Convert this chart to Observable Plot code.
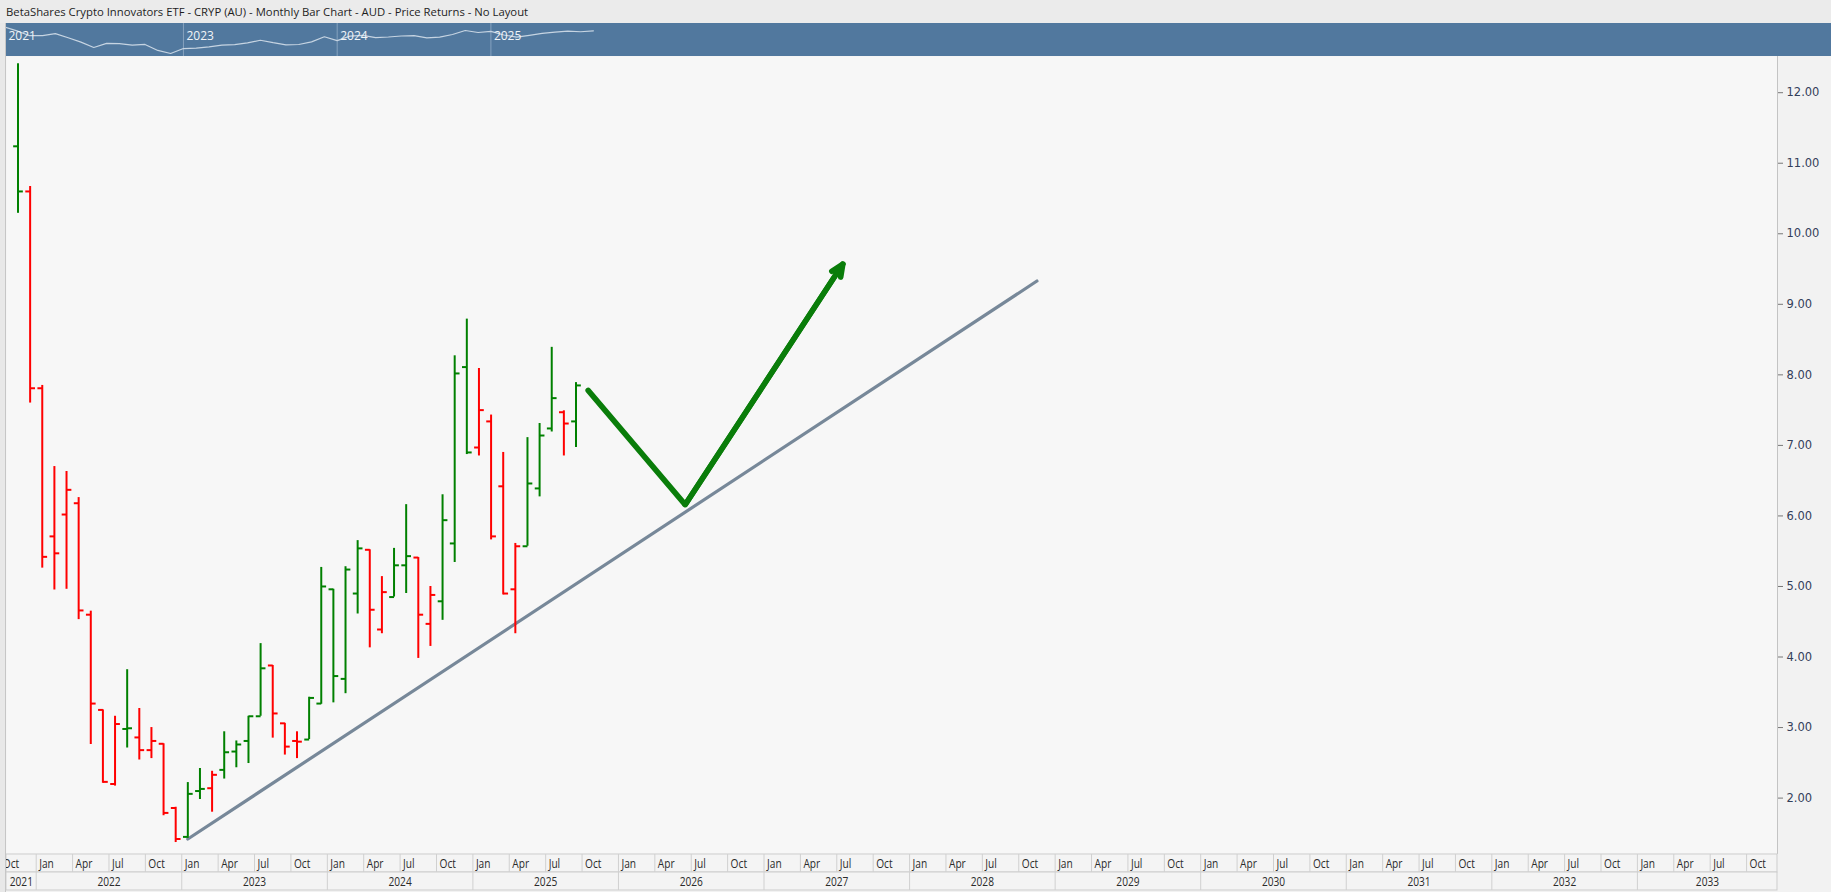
<!DOCTYPE html>
<html><head><meta charset="utf-8">
<script src="https://cdn.jsdelivr.net/npm/d3@7"></script>
<script src="https://cdn.jsdelivr.net/npm/@observablehq/plot@0.6"></script>
<style>
html,body{margin:0;padding:0;}
body{width:1831px;height:892px;overflow:hidden;background:#f2f2f2;position:relative;font-family:"Open Sans",sans-serif;}
#title{position:absolute;left:0;top:0;width:1831px;height:23px;background:#ebebeb;font-size:11.3px;line-height:23px;color:#1e1e1e;padding-left:6px;box-sizing:border-box;white-space:nowrap;}
#strip{position:absolute;left:0;top:23px;width:5px;height:869px;background:#e8e8e8;border-right:1px solid #c6c6c6;}
#nav{position:absolute;left:5px;top:23px;}
#main{position:absolute;left:0;top:56px;}
#axis{position:absolute;left:0;top:853px;}
svg{display:block;}
</style></head><body>
<div id="title">BetaShares Crypto Innovators ETF - CRYP (AU) - Monthly Bar Chart - AUD - Price Returns - No Layout</div>
<div id="nav"></div><div id="main"></div><div id="axis"></div><div id="strip"></div>
<script>
// ---------------- data ----------------
const months = ["2021-11","2021-12","2022-01","2022-02","2022-03","2022-04","2022-05","2022-06","2022-07","2022-08","2022-09","2022-10","2022-11","2022-12",
  "2023-01","2023-02","2023-03","2023-04","2023-05","2023-06","2023-07","2023-08","2023-09","2023-10","2023-11","2023-12",
  "2024-01","2024-02","2024-03","2024-04","2024-05","2024-06","2024-07","2024-08","2024-09","2024-10","2024-11","2024-12",
  "2025-01","2025-02","2025-03","2025-04","2025-05","2025-06","2025-07","2025-08","2025-09"];
const open  = [11.24,10.60,7.81,5.71,6.02,6.18,4.60,3.25,2.20,2.98,2.86,2.68,2.77,1.86,1.45,2.10,2.14,2.40,2.66,2.81,3.16,3.88,3.06,2.81,2.83,3.34,4.96,3.69,4.90,5.52,4.39,4.85,5.30,5.41,4.47,4.79,5.61,8.11,6.97,7.34,6.42,4.96,5.57,6.39,7.24,7.47,7.34];
const high  = [12.41,10.67,7.85,6.70,6.63,6.26,4.65,3.25,3.16,3.82,3.27,3.00,2.77,1.87,2.22,2.42,2.38,2.94,2.81,3.16,4.19,3.88,3.06,2.94,3.43,5.27,4.96,5.28,5.65,5.52,5.14,5.54,6.16,5.41,5.00,6.30,8.27,8.79,8.09,7.43,6.90,5.61,7.11,7.31,8.39,7.49,7.89];
const low   = [10.29,7.60,5.26,4.95,4.96,4.53,2.76,2.21,2.17,2.71,2.54,2.56,1.75,1.37,1.43,1.98,1.80,2.27,2.43,2.49,3.16,2.85,2.61,2.56,2.83,3.33,3.35,3.48,4.61,4.13,4.33,4.85,4.90,3.98,4.15,4.52,5.34,6.87,6.85,5.66,4.88,4.33,5.57,6.27,7.19,6.85,6.97];
const close = [10.60,7.81,5.42,5.47,6.37,4.66,3.34,2.23,3.05,2.99,2.68,2.81,1.79,1.42,2.06,2.13,2.33,2.65,2.76,3.16,3.84,3.20,2.73,2.80,3.42,5.00,3.73,5.24,5.54,4.67,4.92,5.30,5.43,4.60,4.88,5.94,8.02,6.90,7.50,5.71,4.90,5.57,6.46,7.14,7.67,7.31,7.85];
// bar colour class as shown in the chart (U = green, D = red)
const barClass = "UDDDDDDDDUDDDDUUDUUUUDDDUUUUUDDUUDDUUUDDDDUUUDU".split("");

const trendMonths = ["2023-01","2028-11"];
const trendValues = [1.42, 9.33];
const arrowMonths = ["2025-10","2026-06","2027-07"];
const arrowValues = [7.78, 6.16, 9.57];

const yTicks = [2,3,4,5,6,7,8,9,10,11,12];
const quarterLabels = ["Jan","Apr","Jul","Oct"];
const years = ["2021","2022","2023","2024","2025","2026","2027","2028","2029","2030","2031","2032","2033"];
const navYears = ["2021","2023","2024","2025"];

// ---------------- helpers ----------------
const monthIdx = s => { const [y, mo] = s.split("-").map(Number); return (y - 2021) * 12 + (mo - 11); };
const bars = months.map((d, k) => ({m: monthIdx(d), o: open[k], h: high[k], l: low[k], c: close[k], cls: barClass[k]}));
const barColor = d => d.cls === "U" ? "#008000" : "#ff0000";
const trend = trendMonths.map((d, k) => ({m: monthIdx(d), v: trendValues[k]}));
const arrowPts = arrowMonths.map((d, k) => ({m: monthIdx(d), v: arrowValues[k]}));
const arrowSeg = [{m1: arrowPts[1].m, v1: arrowPts[1].v, m2: arrowPts[2].m, v2: arrowPts[2].v}];

const X_DOMAIN = [-0.948, 145.05];
const Y_DOMAIN = [1.2146, 12.513];
const TICK = 0.4;

// ---------------- main chart ----------------
const main = Plot.plot({
  width: 1831, height: 797,
  marginLeft: 6, marginRight: 54, marginTop: 0, marginBottom: 0,
  style: {background: "transparent", fontFamily: "DejaVu Sans", fontSize: "11.5px", overflow: "visible"},
  x: {domain: X_DOMAIN, axis: null},
  y: {domain: Y_DOMAIN, axis: null},
  color: {type: "identity"},
  marks: [
    Plot.frame({fill: "#f7f7f7"}),
    Plot.frame({anchor: "right", stroke: "#c4c4c4"}),
    Plot.axisY(yTicks, {anchor: "right", tickFormat: d3.format(".2f"), tickSize: 5, tickPadding: 4, stroke: "#777", fill: "#34405a", label: null}),
    Plot.line(trend, {x: "m", y: "v", stroke: "#778899", strokeWidth: 3.2}),
    Plot.ruleX(bars, {x: "m", y1: "l", y2: "h", stroke: barColor, strokeWidth: 2}),
    Plot.link(bars, {x1: d => d.m - TICK, x2: "m", y1: "o", y2: "o", stroke: barColor, strokeWidth: 2}),
    Plot.link(bars, {x1: "m", x2: d => d.m + TICK, y1: "c", y2: "c", stroke: barColor, strokeWidth: 2}),
    Plot.line(arrowPts, {x: "m", y: "v", stroke: "#0a7d0a", strokeWidth: 5.5, strokeLinejoin: "miter"}),
    Plot.arrow(arrowSeg, {x1: "m1", y1: "v1", x2: "m2", y2: "v2", stroke: "#0a7d0a", strokeWidth: 5.5, headLength: 3.6, headAngle: 48, strokeLinejoin: "miter"})
  ]
});
document.getElementById("main").appendChild(main);

// ---------------- navigator ----------------
const navMarks = navYears.map(y => ({label: y, m: y === "2021" ? 0.109 : monthIdx(y + "-01")}));
const nav = Plot.plot({
  width: 1826, height: 33, margin: 0,
  style: {background: "#51789e", fontFamily: "Open Sans", overflow: "hidden"},
  x: {domain: [0.109, 142.65], axis: null},
  y: {type: "log", domain: [1.42, 8.02], range: [30, 7], axis: null},
  marks: [
    Plot.ruleX(navMarks.slice(1), {x: "m", stroke: "#86a2bf", strokeWidth: 1}),
    Plot.line(bars, {x: "m", y: "c", stroke: "#c6d4e2", strokeWidth: 1.2}),
    Plot.text(navMarks, {x: "m", text: "label", frameAnchor: "top", dy: 8, dx: 3, textAnchor: "start", fill: "#f0f4f8", fontSize: 12})
  ]
});
document.getElementById("nav").appendChild(nav);

// ---------------- time axis (two rows) ----------------
const quarters = d3.range(-1, 144, 3).map((m, k) => ({m: m - 0.5, label: quarterLabels[(3 + k) % 4]}));
const yearCells = years.map(y => {
  const start = monthIdx(y + "-01") - 0.5, end = start + 12;
  const a = Math.max(start, X_DOMAIN[0]), b = Math.min(end, X_DOMAIN[1]);
  return {label: y, start, mid: (a + b) / 2};
});
const rows = ["month", "year"];
const axis = Plot.plot({
  width: 1831, height: 39,
  marginLeft: 6, marginRight: 54, marginTop: 0, marginBottom: 2,
  style: {background: "transparent", fontFamily: "Open Sans", fontSize: "13px", overflow: "visible"},
  x: {domain: X_DOMAIN, axis: null},
  y: {type: "band", domain: rows, padding: 0, axis: null},
  marks: [
    Plot.barX(rows, {x1: X_DOMAIN[0], x2: X_DOMAIN[1], y: d => d, fill: "#f4f4f4", stroke: "#cdcdcd", inset: 0}),
    Plot.tickX(quarters, {x: "m", y: () => "month", stroke: "#d0d0d0", clip: true}),
    Plot.tickX(yearCells.filter(d => d.start > X_DOMAIN[0]), {x: "start", y: () => "year", stroke: "#d0d0d0"}),
    Plot.text(quarters, {x: "m", y: () => "month", text: "label", textAnchor: "start", dx: 3, fill: "#2b2b2b", clip: true}),
    Plot.text(yearCells, {x: "mid", y: () => "year", text: "label", fill: "#2b2b2b"})
  ]
});
document.getElementById("axis").appendChild(axis);
// condensed look for the axis labels
axis.querySelectorAll("text").forEach(t => {
  const w = t.getComputedTextLength();
  if (w > 0) { t.setAttribute("textLength", (w * 0.78).toFixed(1)); t.setAttribute("lengthAdjust", "spacingAndGlyphs"); }
});
</script>
</body></html>
